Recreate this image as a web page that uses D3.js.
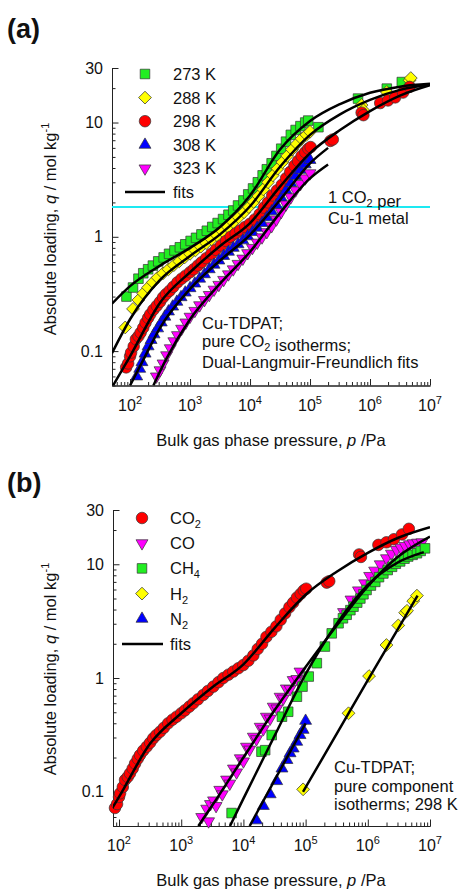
<!DOCTYPE html>
<html>
<head>
<meta charset="utf-8">
<script src="https://cdn.jsdelivr.net/npm/d3@7"></script>
<style>
  body { margin: 0; background: #fff; }
  svg text { font-family: "Liberation Sans", Arial, Helvetica, sans-serif; fill: #111; }
</style>
</head>
<body>
<div id="isotherms"></div>
<script>

// ---- axis ticks ----
var xTickExponents = [2, 3, 4, 5, 6, 7];
var yTickValues = [0.1, 1, 10, 30];
var yDomain = [0.05, 30];
var oneCO2perCu = 1.82;   // mol/kg

// ---- (a) CO2 isotherms in Cu-TDPAT, [p / Pa, q / mol kg-1] ----
var co2_273K = [[87, 0.30], [112, 0.36], [138, 0.43], [166, 0.48], [200, 0.52], [240, 0.56], [295, 0.61], [363, 0.66],
  [447, 0.71], [550, 0.76], [676, 0.81], [832, 0.86], [1023, 0.92], [1259, 0.98], [1549, 1.05], [1905, 1.13],
  [2344, 1.22], [2884, 1.32], [3548, 1.43], [4365, 1.56], [5248, 1.70], [6310, 1.88], [7762, 2.08], [9333, 2.35],
  [11220, 2.65], [13490, 3.0], [16220, 3.45], [19050, 3.9], [22910, 4.4], [27540, 5.1], [33110, 5.9], [39810, 6.8],
  [47860, 7.8], [57540, 8.6], [69180, 9.3], [83180, 10.0], [93330, 10.4], [138000, 9.1], [631000, 16.2],
  [1905000, 19.8], [3388000, 22.6]];

var co2_288K = [[83, 0.161], [112, 0.234], [138, 0.28], [166, 0.32], [200, 0.36], [240, 0.40], [288, 0.44], [355, 0.48],
  [437, 0.52], [537, 0.565], [661, 0.61], [813, 0.66], [1000, 0.71], [1230, 0.76], [1514, 0.82], [1862, 0.88],
  [2291, 0.95], [2818, 1.03], [3467, 1.12], [4266, 1.22], [5248, 1.34], [6457, 1.48], [7943, 1.64], [9550, 1.82],
  [11480, 2.02], [13800, 2.27], [16600, 2.6], [19950, 3.0], [23990, 3.45], [28840, 3.95], [34670, 4.5], [41690, 5.1],
  [50120, 5.8], [60260, 6.5], [72440, 7.2], [87100, 7.8], [100000, 8.3], [724000, 14.2], [776000, 12.8],
  [1905000, 18.5], [4571000, 23.4], [4786000, 24.5]];

var co2_298K = [[86, 0.072], [93, 0.078], [100, 0.09], [104, 0.097], [115, 0.11], [125, 0.127], [138, 0.135], [150, 0.145],
  [166, 0.16], [181, 0.177], [200, 0.195], [217, 0.21], [245, 0.23], [279, 0.249], [316, 0.27], [355, 0.295],
  [398, 0.315], [456, 0.337], [525, 0.365], [617, 0.40], [724, 0.43], [845, 0.457], [1000, 0.49], [1148, 0.52],
  [1349, 0.56], [1563, 0.60], [1862, 0.65], [2265, 0.71], [2692, 0.77], [3281, 0.84], [3981, 0.92], [4753, 1.0],
  [5754, 1.07], [6871, 1.14], [8318, 1.22], [9954, 1.30], [12020, 1.42], [14450, 1.58], [16980, 1.80], [19950, 2.0],
  [23440, 2.3], [28180, 2.55], [33880, 2.85], [39810, 3.25], [46770, 3.7], [54950, 4.2], [63100, 4.6], [72440, 5.1],
  [83180, 5.5], [93330, 5.9], [102300, 6.1], [218800, 6.9], [239900, 7.1], [724400, 12.2], [776200, 11.6],
  [1479000, 14.8], [1995000, 15.6], [2630000, 16.6], [3548000, 18.3], [4571000, 20.5]];

var co2_308K = [[129, 0.060], [145, 0.070], [158, 0.080], [178, 0.095], [200, 0.110], [224, 0.125], [251, 0.140],
  [288, 0.158], [331, 0.178], [380, 0.200], [437, 0.222], [513, 0.245], [603, 0.270], [708, 0.296], [832, 0.325],
  [1000, 0.355], [1202, 0.39], [1445, 0.43], [1738, 0.47], [2089, 0.52], [2512, 0.57], [3020, 0.62], [3631, 0.68],
  [4365, 0.74], [5248, 0.80], [6310, 0.86], [7586, 0.93], [9120, 1.01], [10960, 1.10], [13180, 1.20], [15850, 1.32],
  [19050, 1.48], [22910, 1.67], [27540, 1.90], [33110, 2.20], [39810, 2.55], [47860, 2.95], [57540, 3.4],
  [69180, 3.85], [83180, 4.3], [100000, 4.7]];

var co2_323K = [[275, 0.060], [316, 0.068], [355, 0.078], [407, 0.092], [468, 0.106], [537, 0.122], [617, 0.138],
  [724, 0.157], [851, 0.178], [1000, 0.20], [1202, 0.225], [1445, 0.252], [1738, 0.28], [2089, 0.31], [2512, 0.345],
  [3020, 0.38], [3631, 0.42], [4365, 0.47], [5248, 0.52], [6310, 0.58], [7586, 0.645], [9120, 0.72], [10960, 0.80],
  [13180, 0.89], [15850, 0.99], [19050, 1.10], [22910, 1.24], [27540, 1.42], [33110, 1.65], [39810, 1.92],
  [47860, 2.22], [57540, 2.55], [69180, 2.90], [83180, 3.25], [100000, 3.6]];

// Dual-Langmuir-Freundlich fit curves, sampled
var fit_273K = [[50, 0.26], [100, 0.37], [316, 0.56], [1000, 0.80], [3162, 1.22], [10000, 2.3], [31620, 5.8],
  [100000, 10.3], [316200, 14.5], [1000000, 18.2], [3162000, 20.6], [10000000, 21.8]];
var fit_288K = [[50, 0.096], [100, 0.19], [316, 0.42], [1000, 0.68], [3162, 1.05], [10000, 1.85], [31620, 4.1],
  [100000, 7.8], [316200, 11.8], [1000000, 15.8], [3162000, 19.3], [10000000, 21.5]];
var fit_298K = [[52, 0.05], [100, 0.09], [316, 0.265], [1000, 0.49], [3162, 0.83], [10000, 1.32], [31620, 2.75],
  [100000, 5.4], [316200, 8.6], [1000000, 12.6], [3162000, 17.2], [10000000, 21.2]];
var fit_308K = [[100, 0.05], [178, 0.09], [316, 0.16], [1000, 0.35], [3162, 0.62], [10000, 1.04], [31620, 2.1],
  [100000, 4.4], [200000, 6.0]];
var fit_323K = [[245, 0.05], [400, 0.085], [1000, 0.19], [3162, 0.39], [10000, 0.74], [31620, 1.62], [100000, 3.25],
  [200000, 4.3]];

// ---- (b) pure component isotherms at 298 K ----
var co_298K = [[2138, 0.060], [2570, 0.071], [2754, 0.055], [2951, 0.078], [3311, 0.084], [3631, 0.075], [4169, 0.104],
  [4571, 0.095], [5370, 0.128], [6026, 0.118], [6918, 0.16], [7762, 0.148], [8913, 0.197], [10000, 0.185],
  [11220, 0.249], [12590, 0.235], [14450, 0.305], [16220, 0.29], [18620, 0.373], [20890, 0.355], [23440, 0.457],
  [26920, 0.44], [30200, 0.56], [34670, 0.54], [38900, 0.685], [43650, 0.66], [48980, 0.81], [56230, 0.80],
  [63100, 0.96], [72440, 0.98], [81280, 1.14], [407400, 3.8], [537000, 4.9], [707900, 5.9], [891300, 6.8],
  [1072000, 7.9], [1288000, 8.8], [1585000, 10.0], [1995000, 11.3], [2399000, 12.4], [2884000, 13.4],
  [3388000, 14.0], [3981000, 14.5], [4677000, 15.0], [5370000, 15.3], [6310000, 15.5], [7413000, 15.6]];

var ch4_298K = [[6457, 0.065], [19500, 0.225], [22390, 0.232], [28510, 0.315], [41690, 0.457], [52480, 0.505],
  [72440, 0.685], [89130, 0.84], [112200, 1.03], [151400, 1.35], [204200, 1.89], [263000, 2.47], [338800, 3.03],
  [398100, 3.35], [457100, 3.6], [524800, 3.95], [588800, 4.24], [676100, 4.6], [758600, 5.0], [851100, 5.45],
  [955000, 5.94], [1122000, 6.5], [1318000, 7.0], [1514000, 7.7], [1778000, 8.3], [2089000, 8.9], [2455000, 9.5],
  [2818000, 10.1], [3311000, 10.6], [3890000, 11.2], [4467000, 11.7], [5248000, 12.1], [6166000, 12.5],
  [7079000, 13.1], [8318000, 13.8]];

var h2_298K = [[91200, 0.105], [489800, 0.49], [1047000, 1.04], [1995000, 1.95], [3090000, 2.9], [3981000, 3.75],
  [4266000, 3.9], [5370000, 4.75], [6166000, 5.3]];

var n2_298K = [[16220, 0.056], [20890, 0.075], [26920, 0.095], [34280, 0.124], [41690, 0.16], [50120, 0.19],
  [56230, 0.218], [63100, 0.24], [71940, 0.275], [81280, 0.315], [91200, 0.35], [100000, 0.42]];

var fit_co = [[1884, 0.05], [3162, 0.076], [10000, 0.20], [31620, 0.52], [100000, 1.25], [316200, 2.9],
  [1000000, 6.4], [3162000, 11.8], [10000000, 17.5]];
var fit_ch4 = [[6080, 0.05], [10000, 0.087], [31620, 0.31], [100000, 1.08], [316200, 3.0], [1000000, 6.6],
  [3162000, 10.5], [7943000, 12.8]];
var fit_h2 = [[91200, 0.10], [1000000, 0.96], [6310000, 5.3]];
var fit_n2 = [[12590, 0.05], [100000, 0.40]];

// ---- marker styles ----
var shapes = {
  square:  { type: d3.symbolSquare,   size: 92,  rotate: 0 },
  diamond: { type: d3.symbolSquare,   size: 82,  rotate: 45 },
  circle:  { type: d3.symbolCircle,   size: 105, rotate: 0 },
  triUp:   { type: d3.symbolTriangle, size: 62,  rotate: 0 },
  triDown: { type: d3.symbolTriangle, size: 62,  rotate: 180 }
};

var svg = d3.select("#isotherms")
  .append("svg")
  .attr("width", 463)
  .attr("height", 890);

function isDecade(d) {
  var l = Math.log10(d);
  return Math.abs(l - Math.round(l)) < 1e-6;
}

function drawMarker(sel, shape, color) {
  var s = shapes[shape];
  sel.append("path")
    .attr("d", d3.symbol().type(s.type).size(s.size)())
    .attr("transform", function (d) { return "translate(" + d.x + "," + d.y + ") rotate(" + s.rotate + ")"; })
    .style("fill", color)
    .style("stroke", "#333")
    .style("stroke-width", 0.7);
}

function drawPanel(cfg) {
  var x = d3.scaleLog().domain(cfg.xDomain).range([cfg.left, cfg.right]);
  var y = d3.scaleLog().domain(yDomain).range([cfg.bottom, cfg.top]);
  var g = svg.append("g");

  g.append("clipPath")
    .attr("id", cfg.id + "-clip")
    .append("rect")
    .attr("x", cfg.left)
    .attr("y", cfg.top)
    .attr("width", cfg.right - cfg.left)
    .attr("height", cfg.bottom - cfg.top);

  // x axis: minor ticks, then decades, all pointing inward
  var xMinor = x.ticks().filter(function (d) { return !isDecade(d); });
  var xMajor = xTickExponents.map(function (e) { return Math.pow(10, e); });
  g.append("g")
    .attr("transform", "translate(0," + cfg.bottom + ")")
    .call(d3.axisBottom(x).tickValues(xMinor).tickSizeInner(-3.5).tickSizeOuter(0).tickFormat(""));
  g.append("g")
    .attr("transform", "translate(0," + cfg.bottom + ")")
    .call(d3.axisBottom(x).tickValues(xMajor).tickSizeInner(-6.5).tickSizeOuter(0).tickFormat(""));

  xTickExponents.forEach(function (e) {
    var lab = g.append("text")
      .attr("x", x(Math.pow(10, e)))
      .attr("y", cfg.bottom + 25)
      .attr("text-anchor", "middle")
      .style("font-size", "16px");
    lab.append("tspan").text("10");
    lab.append("tspan").attr("dy", -7).style("font-size", "11px").text(e);
  });

  // y axis
  var yMinor = y.ticks().filter(function (d) { return yTickValues.indexOf(d) < 0 && !isDecade(d); });
  g.append("g")
    .attr("transform", "translate(" + cfg.left + ",0)")
    .call(d3.axisLeft(y).tickValues(yMinor).tickSizeInner(-3.5).tickSizeOuter(0).tickFormat(""));
  g.append("g")
    .attr("transform", "translate(" + cfg.left + ",0)")
    .call(d3.axisLeft(y).tickValues(yTickValues).tickSizeInner(-6.5).tickSizeOuter(0).tickPadding(9)
      .tickFormat(function (d) { return d; }))
    .selectAll("text")
    .style("font-size", "16px");

  g.selectAll(".domain, .tick line").style("stroke", "#222");

  // optional horizontal reference line
  if (cfg.refLine) {
    g.append("line")
      .attr("x1", cfg.left)
      .attr("x2", cfg.right)
      .attr("y1", y(cfg.refLine))
      .attr("y2", y(cfg.refLine))
      .style("stroke", "#1de9f2")
      .style("stroke-width", 2);
  }

  // markers
  cfg.series.forEach(function (s) {
    var pts = s.data.map(function (d) { return { x: x(d[0]), y: y(d[1]) }; });
    g.append("g").selectAll("path")
      .data(pts)
      .enter()
      .call(drawMarker, s.shape, s.color);
  });

  // fits on top
  var line = d3.line()
    .x(function (d) { return x(d[0]); })
    .y(function (d) { return y(d[1]); })
    .curve(d3.curveMonotoneX);
  var fits = g.append("g").attr("clip-path", "url(#" + cfg.id + "-clip)");
  cfg.series.forEach(function (s) {
    fits.append("path")
      .attr("d", line(s.fit))
      .style("fill", "none")
      .style("stroke", "#000")
      .style("stroke-width", 2.5);
  });

  // legend
  var lg = cfg.legend;
  cfg.series.forEach(function (s, i) {
    var ly = lg.y0 + i * lg.step;
    g.append("g").selectAll("path")
      .data([{ x: lg.x, y: ly }])
      .enter()
      .call(drawMarker, s.shape, s.color);
    var t = g.append("text")
      .attr("x", lg.textX)
      .attr("y", ly + 6)
      .style("font-size", "16.5px");
    t.append("tspan").text(s.label);
    if (s.sub) {
      t.append("tspan").attr("dy", 4).style("font-size", "11px").text(s.sub);
    }
  });
  var fy = lg.y0 + cfg.series.length * lg.step;
  g.append("line")
    .attr("x1", lg.lineX[0]).attr("x2", lg.lineX[1])
    .attr("y1", fy).attr("y2", fy)
    .style("stroke", "#000")
    .style("stroke-width", 2.5);
  g.append("text")
    .attr("x", lg.textX)
    .attr("y", fy + 6)
    .style("font-size", "16.5px")
    .text("fits");

  // axis titles
  var xt = g.append("text")
    .attr("x", 271)
    .attr("y", cfg.xTitleY)
    .attr("text-anchor", "middle")
    .style("font-size", "16.5px");
  xt.append("tspan").text("Bulk gas phase pressure, ");
  xt.append("tspan").style("font-style", "italic").text("p");
  xt.append("tspan").text(" /Pa");

  var yt = g.append("text")
    .attr("transform", "translate(56," + cfg.yTitleY + ") rotate(-90)")
    .attr("text-anchor", "middle")
    .style("font-size", "16.5px");
  yt.append("tspan").text("Absolute loading, ");
  yt.append("tspan").style("font-style", "italic").text("q");
  yt.append("tspan").text(" / mol kg");
  yt.append("tspan").attr("dy", -7).style("font-size", "11px").text("-1");

  // panel letter
  svg.append("text")
    .attr("x", 7)
    .attr("y", cfg.letterY)
    .style("font-size", "27px")
    .style("font-weight", "bold")
    .text(cfg.letter);

  // notes inside the plot
  cfg.notes.forEach(function (n) {
    var t = g.append("text")
      .attr("x", n.x)
      .attr("y", n.y)
      .style("font-size", "16.5px");
    n.parts.forEach(function (p) {
      if (p.sub) {
        t.append("tspan").attr("dy", 4).style("font-size", "11px").text(p.sub);
        t.append("tspan").attr("dy", -4).text("");
      } else {
        t.append("tspan").text(p.text);
      }
    });
  });
}

drawPanel({
  id: "panel-a", letter: "(a)", letterY: 38,
  left: 112, right: 430, top: 68, bottom: 385.5, xDomain: [50, 1e7],
  xTitleY: 446, yTitleY: 229,
  refLine: oneCO2perCu,
  series: [
    { label: "273 K", data: co2_273K, fit: fit_273K, color: "#22ee22", shape: "square" },
    { label: "288 K", data: co2_288K, fit: fit_288K, color: "#ffff00", shape: "diamond" },
    { label: "298 K", data: co2_298K, fit: fit_298K, color: "#ff0000", shape: "circle" },
    { label: "308 K", data: co2_308K, fit: fit_308K, color: "#0000ff", shape: "triUp" },
    { label: "323 K", data: co2_323K, fit: fit_323K, color: "#ff00ff", shape: "triDown" }
  ],
  legend: { x: 145, textX: 173, y0: 74, step: 23.6, lineX: [125, 165] },
  notes: [
    { x: 328, y: 203, parts: [{ text: "1 CO" }, { sub: "2" }, { text: " per" }] },
    { x: 328, y: 224, parts: [{ text: "Cu-1 metal" }] },
    { x: 202, y: 329, parts: [{ text: "Cu-TDPAT;" }] },
    { x: 202, y: 347, parts: [{ text: "pure CO" }, { sub: "2" }, { text: " isotherms;" }] },
    { x: 202, y: 368, parts: [{ text: "Dual-Langmuir-Freundlich fits" }] }
  ]
});

drawPanel({
  id: "panel-b", letter: "(b)", letterY: 492,
  left: 113, right: 430, top: 510, bottom: 826, xDomain: [80, 1e7],
  xTitleY: 886, yTitleY: 669,
  series: [
    { label: "CO", sub: "2", data: co2_298K, fit: fit_298K, color: "#ff0000", shape: "circle" },
    { label: "CO", data: co_298K, fit: fit_co, color: "#ff00ff", shape: "triDown" },
    { label: "CH", sub: "4", data: ch4_298K, fit: fit_ch4, color: "#22ee22", shape: "square" },
    { label: "H", sub: "2", data: h2_298K, fit: fit_h2, color: "#ffff00", shape: "diamond" },
    { label: "N", sub: "2", data: n2_298K, fit: fit_n2, color: "#0000ff", shape: "triUp" }
  ],
  legend: { x: 142, textX: 170, y0: 518, step: 25.2, lineX: [122, 163] },
  notes: [
    { x: 334, y: 773, parts: [{ text: "Cu-TDPAT;" }] },
    { x: 334, y: 792, parts: [{ text: "pure component" }] },
    { x: 334, y: 810, parts: [{ text: "isotherms; 298 K" }] }
  ]
});

</script>
</body>
</html>
